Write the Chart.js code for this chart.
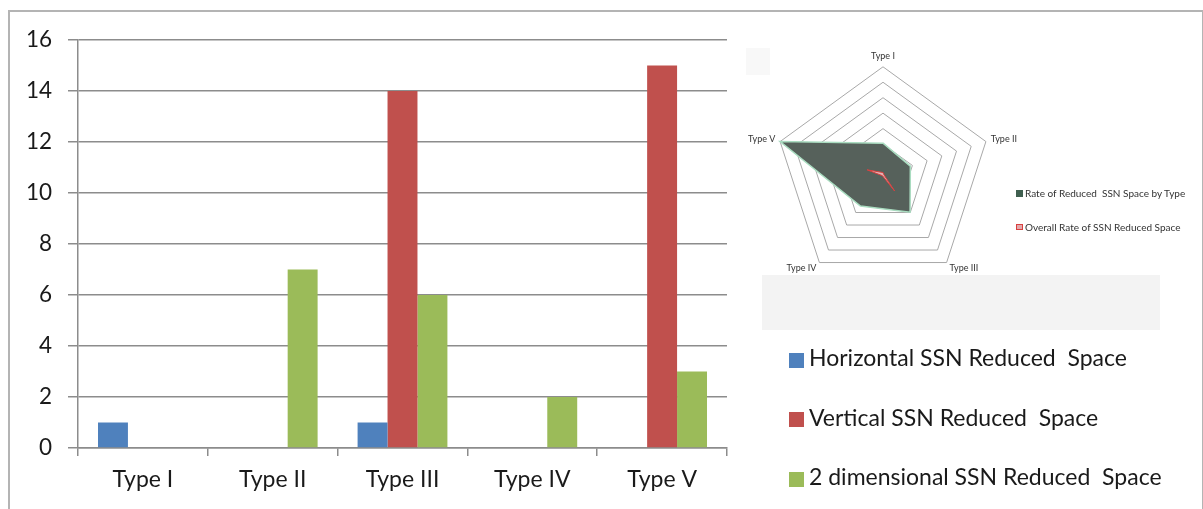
<!DOCTYPE html>
<html>
<head>
<meta charset="utf-8">
<script src="https://cdn.jsdelivr.net/npm/chart.js@4/dist/chart.umd.min.js"></script>
<style>
  html, body { margin: 0; padding: 0; background: #fff; }
  #stage { position: relative; width: 1203px; height: 509px; overflow: hidden; font-family: Lato, "Open Sans", sans-serif; }
  #frame { position: absolute; left: 8px; top: 10px; width: 1192px; height: 520px; border: 2px solid #b4b4b4; border-bottom: none; }
  #barCanvas { position: absolute; left: 0; top: 0; }
  #radarCanvas { position: absolute; left: 745px; top: 44px; }
  .shade { position: absolute; background: #f3f3f3; }
  .leg { position: absolute; white-space: pre; color: #1a1a1a; }
  .leg i { position: absolute; display: block; }
</style>
</head>
<body>
<div id="stage">
  <div id="frame"></div>
  <div class="shade" style="left:762px; top:275px; width:398px; height:55px;"></div>
  <div class="shade" style="left:746px; top:48px; width:24px; height:27px; background:#f8f8f8;"></div>
  <canvas id="barCanvas" width="1203" height="509"></canvas>
  <canvas id="radarCanvas" width="275" height="248"></canvas>
  <div id="barLegend"></div>
  <div id="radarLegend"></div>
</div>
<script>
// Categories and series
const categories = ['Type I', 'Type II', 'Type III', 'Type IV', 'Type V'];
const horizontalSpace = [1, 0, 1, 0, 0];
const verticalSpace = [0, 0, 14, 0, 15];
const twoDimSpace = [0, 7, 6, 2, 3];
const barSeriesNames = ['Horizontal SSN Reduced  Space', 'Vertical SSN Reduced  Space', '2 dimensional SSN Reduced  Space'];
const barColors = ['#4f81bd', '#c0504d', '#9bbb59'];
const yTicks = [0, 2, 4, 6, 8, 10, 12, 14, 16];

// Radar inset series
const rateByType = [10.3, 9.3, 14.9, 12.4, 35];
const overallRate = [0.8, 0.3, 6.4, 0.3, 5.4];
const radarSeriesNames = ['Rate of Reduced  SSN Space by Type', 'Overall Rate of SSN Reduced Space'];
const radarColors = ['#3f5f4f', '#e2a9ad'];

Chart.defaults.font.family = 'Lato, "Open Sans", sans-serif';
Chart.defaults.devicePixelRatio = 1;

new Chart(document.getElementById('barCanvas'), {
  type: 'bar',
  data: {
    labels: categories,
    datasets: [horizontalSpace, verticalSpace, twoDimSpace].map((d, i) => ({
      label: barSeriesNames[i],
      data: d,
      backgroundColor: barColors[i],
      borderWidth: 0,
      categoryPercentage: 0.692,
      barPercentage: 1.0
    }))
  },
  options: {
    responsive: false,
    animation: false,
    layout: { padding: { left: 8, top: 40, right: 476, bottom: 0 } },
    plugins: { legend: { display: false }, tooltip: { enabled: false } },
    scales: {
      x: {
        afterFit: s => { s.height = 61; },
        grid: { drawOnChartArea: false, drawTicks: true, tickLength: 8, color: '#8c8c8c', lineWidth: 1.5, offset: true },
        border: { color: '#8c8c8c', width: 1.5 },
        ticks: { color: '#1a1a1a', font: { size: 23 }, padding: 10, maxRotation: 0 }
      },
      y: {
        min: 0, max: 16,
        afterFit: s => { s.width = 70; },
        afterBuildTicks: s => { s.ticks = yTicks.map(v => ({ value: v })); },
        grid: { color: '#8c8c8c', lineWidth: 1.5, tickLength: 10 },
        border: { color: '#8c8c8c', width: 1.5 },
        ticks: { color: '#1a1a1a', font: { size: 22.5 }, padding: 16 }
      }
    }
  }
});

// Side labels sit level with their vertex, bottom labels close under theirs
const pointLabelLineHeight = [1.2, 0.1, 0.4, 0.4, 0.1];

new Chart(document.getElementById('radarCanvas'), {
  type: 'radar',
  data: {
    labels: categories,
    datasets: [
      { label: radarSeriesNames[0], data: rateByType, order: 1, backgroundColor: '#56615b', borderColor: '#a9dcc0', borderWidth: 1.5, pointRadius: 0, tension: 0, fill: true },
      { label: radarSeriesNames[1], data: overallRate, order: 0, backgroundColor: '#e6b3b6', borderColor: '#d9403f', borderWidth: 1, pointRadius: 0, tension: 0, fill: true }
    ]
  },
  options: {
    responsive: false,
    animation: false,
    plugins: { legend: { display: false }, tooltip: { enabled: false } },
    scales: {
      r: {
        min: 0, max: 35,
        ticks: { display: false, stepSize: 5 },
        grid: { color: '#a8a8a8', lineWidth: 1 },
        angleLines: { display: false },
        pointLabels: {
          color: '#333',
          padding: 5,
          font: ctx => ({ size: 9, lineHeight: pointLabelLineHeight[ctx.index] })
        }
      }
    }
  }
});

// Legends as positioned text rows
const barLegend = document.getElementById('barLegend');
barSeriesNames.forEach((name, i) => {
  const top = 346 + i * 59.5;
  const row = document.createElement('div');
  row.className = 'leg';
  row.style.cssText = `left:809px; top:${top}px; font-size:23px; line-height:23px;`;
  row.textContent = name;
  barLegend.appendChild(row);
  const sq = document.createElement('i');
  sq.className = 'leg';
  sq.style.cssText = `left:789px; top:${top + 6.5}px; width:15px; height:15px; background:${barColors[i]};`;
  barLegend.appendChild(sq);
});

const radarLegend = document.getElementById('radarLegend');
radarSeriesNames.forEach((name, i) => {
  const top = 188 + i * 33.5;
  const row = document.createElement('div');
  row.className = 'leg';
  row.style.cssText = `left:1025px; top:${top}px; font-size:10px; line-height:10px; color:#333;`;
  row.textContent = name;
  radarLegend.appendChild(row);
  const sq = document.createElement('i');
  sq.className = 'leg';
  sq.style.cssText = `left:1016px; top:${top + 2}px; width:6.5px; height:6.5px; background:${radarColors[i]};` + (i === 1 ? 'box-shadow: inset 0 0 0 1px #d9403f;' : '');
  radarLegend.appendChild(sq);
});
</script>
</body>
</html>
